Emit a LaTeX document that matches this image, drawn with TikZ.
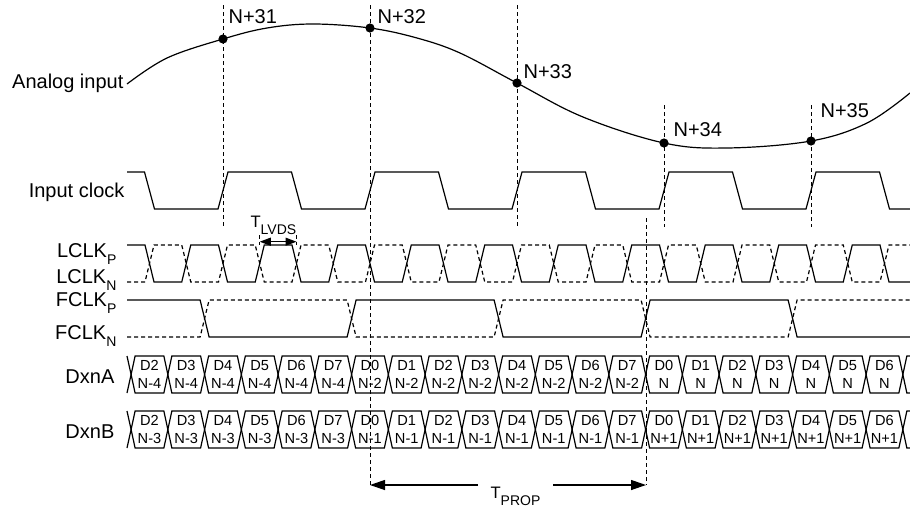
\documentclass[tikz,border=0pt]{standalone}
\usepackage{fontspec}
\setmainfont{Liberation Sans}
\usetikzlibrary{arrows.meta}
\newcommand{\lowsub}[1]{\raisebox{-3.5pt}{\fontsize{7}{8}\selectfont #1}}

\begin{document}
\begin{tikzpicture}[x=0.5pt, y=-0.5pt, line width=0.6pt,
    lbl/.style={anchor=base east, inner sep=0pt, font=\fontsize{10}{12}\selectfont},
    smp/.style={anchor=base west, inner sep=0pt, font=\fontsize{10}{12}\selectfont},
    tlbl/.style={anchor=base west, inner sep=0pt, font=\fontsize{8.3}{10}\selectfont},
    dot/.style={circle, fill, inner sep=0pt, minimum size=4.6pt},
    guide/.style={dash pattern=on 2pt off 1.5pt, line width=0.5pt},
    dashwave/.style={dash pattern=on 2pt off 1.5pt},
    bits/.style={align=center, inner sep=0pt, font=\fontsize{7.3}{8.8}\selectfont},
    bigtip/.style={-{Triangle[length=7.5pt,width=5pt]}},
    smalltip/.style={{Triangle[length=5.5pt,width=4pt]}-{Triangle[length=5.5pt,width=4pt]}}]
    \useasboundingbox (0,0) rectangle (910,510);

    \node[lbl] at (124,88) (analog) {Analog input};
    \node[lbl] at (125,197) (inclk) {Input clock};
    \node[lbl] at (117,257) (lclkp) {LCLK\lowsub{P}};
    \node[lbl] at (117,283) (lclkn) {LCLK\lowsub{N}};
    \node[lbl] at (117,306) (fclkp) {FCLK\lowsub{P}};
    \node[lbl] at (117,339) (fclkn) {FCLK\lowsub{N}};
    \node[lbl] at (115,383) (dxna) {DxnA};
    \node[lbl] at (115,438) (dxnb) {DxnB};

    \draw plot[smooth, tension=0.6] coordinates {(127,84) (167,58) (223,39) (267,28) (313,24) (370,28)
        (417,38) (460,53) (517,83) (583,117) (664,143) (727,148) (811,141) (867,123) (910,93)};

    \coordinate (pl) at (370,485);
    \coordinate (pr) at (646,485);

    \foreach \n/\x/\y/\top/\bot/\lx/\ly in {31/223/39/5/227/228/23, 32/370/28/5/485/377/23,
        33/517/83/5/227/523/78, 34/664/143/105/227/673/136, 35/811/141/105/227/820/117} {
        \node[dot] at (\x,\y) (p\n) {};
        \draw[guide] (p\n |- 0,\top) -- (p\n |- 0,\bot);
        \node[smp] at (\lx,\ly) (n\n) {N+\n};
    }

    \draw (127,172) -- (144.5,172) -- (154.5,209) foreach \k in {0,...,4} {
        -- ({218+147*\k},209) -- ({228+147*\k},172) -- ({291.5+147*\k},172) -- ({301.5+147*\k},209) } -- (910,209);

    \draw (127,245) foreach \m in {-1,...,8} {
        -- ({218.5+73.5*\m},245) -- ({227.5+73.5*\m},282) -- ({255.25+73.5*\m},282) -- ({264.25+73.5*\m},245) }
        -- (880,245) -- (889,282) -- (910,282);
    \draw[dashwave] (127,282) foreach \m in {-1,...,8} {
        -- ({218.5+73.5*\m},282) -- ({227.5+73.5*\m},245) -- ({255.25+73.5*\m},245) -- ({264.25+73.5*\m},282) }
        -- (880,282) -- (889,245) -- (910,245);

    \draw (127,300) foreach \k in {0,2} {
        -- ({200.1+147*\k},300) -- ({209.1+147*\k},337) -- ({347.1+147*\k},337) -- ({356.1+147*\k},300) }
        -- (788.1,300) -- (797.1,337) -- (910,337);
    \draw[dashwave] (127,337) foreach \k in {0,2} {
        -- ({200.1+147*\k},337) -- ({209.1+147*\k},300) -- ({347.1+147*\k},300) -- ({356.1+147*\k},337) }
        -- (788.1,337) -- (797.1,300) -- (910,300);

    \foreach \f/\first/\last/\na/\nb in {-1/2/7/N-4/N-3, 0/0/7/N-2/N-1, 1/0/6/N/N+1} {
        \foreach \d in {\first,...,\last} {
            \pgfmathsetmacro\xs{351.6+294*\f+36.75*\d}
            \pgfmathtruncatemacro\cellno{8*\f+\d+8}
            \foreach \r/\top/\lab in {A/356/\na, B/411/\nb} {
                \draw (\xs,\top+18.5) -- (\xs+4,\top) -- (\xs+32.75,\top) -- (\xs+36.75,\top+18.5)
                    -- (\xs+32.75,\top+37) -- (\xs+4,\top+37) -- cycle;
                \node[bits] at (\xs+18.4,\top+18.5) (\r\cellno) {D\d\\\lab};
            }
        }
    }
    \foreach \top in {356,411} {
        \draw (127,\top) -- (131.1,\top+18.5) -- (127,\top+37);
        \draw (910,\top) -- (906.85,\top) -- (902.85,\top+18.5) -- (906.85,\top+37) -- (910,\top+37);
    }

    \draw[guide] (259.75,235) -- (259.75,245);
    \draw[guide] (296.5,235) -- (296.5,245);
    \draw[smalltip] (259.75,241.7) -- (296.5,241.7);
    \node[tlbl] at (250,227) (tlvds) {T\lowsub{LVDS}};

    \draw[guide] (pr |- 0,218) -- (pr);
    \node[tlbl, inner xsep=6pt] at (478,498) (tprop) {T\lowsub{PROP}};
    \draw[bigtip] (tprop.west |- pl) -- (pl);
    \draw[bigtip] (tprop.east |- pr) -- (pr);
\end{tikzpicture}
\end{document}
